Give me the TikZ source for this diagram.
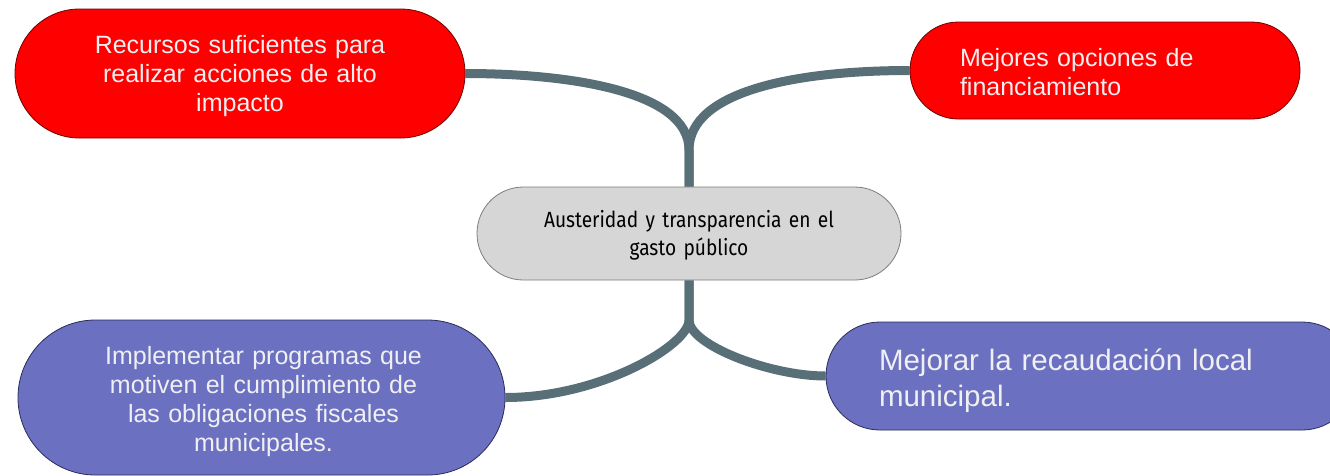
\documentclass[tikz,border=0pt]{standalone}
\usepackage{fontspec}
\setmainfont{Liberation Sans}
\newfontfamily\condfont[FakeStretch=0.87]{Fira Sans}
\usetikzlibrary{backgrounds}
\definecolor{redfill}{RGB}{255,0,0}
\definecolor{redline}{RGB}{110,0,0}
\definecolor{purfill}{RGB}{107,112,193}
\definecolor{purline}{RGB}{40,44,90}
\definecolor{grayfill}{RGB}{214,214,214}
\definecolor{grayline}{RGB}{125,125,125}
\definecolor{connc}{RGB}{88,111,119}
\definecolor{txtlight}{RGB}{240,240,242}
\begin{document}
\begin{tikzpicture}[x=1pt,y=-1pt,
  pill/.style={draw, line width=0.8pt, inner sep=0pt},
  redpill/.style={pill, draw=redline, fill=redfill},
  purpill/.style={pill, draw=purline, fill=purfill},
  centerpill/.style={pill, draw=grayline, fill=grayfill},
  lighttext/.style={inner sep=0pt, text=txtlight, font=\fontsize{25pt}{29pt}\selectfont},
  bigtext/.style={inner sep=0pt, text=txtlight, font=\fontsize{29.5pt}{36pt}\selectfont},
  centertext/.style={inner sep=0pt, text=black, font=\condfont\fontsize{22pt}{28pt}\selectfont},
  conn/.style={draw=connc, line width=9pt}
]
\useasboundingbox (0,0) rectangle (1330,475);

% shapes
\node[redpill, minimum width=450pt, minimum height=129pt, rounded corners=64.4pt] (tl) at (240,73.5) {};
\node[redpill, minimum width=390pt, minimum height=97pt, rounded corners=48.4pt] (tr) at (1105,70.5) {};
\node[centerpill, minimum width=424pt, minimum height=93pt, rounded corners=46.4pt] (c) at (689,233.5) {};
\node[purpill, minimum width=487pt, minimum height=155pt, rounded corners=77.4pt] (bl) at (261.5,397.5) {};
\node[purpill, minimum width=530pt, minimum height=108pt, rounded corners=53.9pt] (br) at (1091,376) {};

% texts
\node[lighttext, text width=420pt, align=center] (tltext) at ([yshift=-3pt]tl.center)
  {Recursos suficientes para\\realizar acciones de alto\\impacto};
\node[lighttext, text width=290pt, align=left] (trtext) at ([yshift=-2pt]tr.center)
  {Mejores opciones de\\financiamiento};
\node[centertext, text width=380pt, align=center] (ctext) at ([yshift=-2pt]c.center)
  {Austeridad y transparencia en el\\gasto público};
\node[lighttext, text width=440pt, align=center] (bltext) at ([xshift=2pt,yshift=-4pt]bl.center)
  {Implementar programas que\\motiven el cumplimiento de\\las obligaciones fiscales\\municipales.};
\node[bigtext, text width=424pt, align=left] (brtext) at ([yshift=-5pt]br.center)
  {Mejorar la recaudación local\\municipal.};

\coordinate (tj) at (689,150);
\coordinate (bj) at (689,320);

\begin{scope}[on background layer]
  \draw[conn] (c.north) -- (tj) .. controls +(0,-60) and +(100,0) .. (tl.east);
  \draw[conn] (c.north) -- (tj) .. controls +(0,-60) and +(-110,0) .. (tr.west);
  \draw[conn] (c.south) -- (bj) .. controls +(0,25) and +(95,0) .. (bl.east);
  \draw[conn] (c.south) -- (bj) .. controls +(0,25) and +(-56,0) .. (br.west);
\end{scope}
\end{tikzpicture}
\end{document}
